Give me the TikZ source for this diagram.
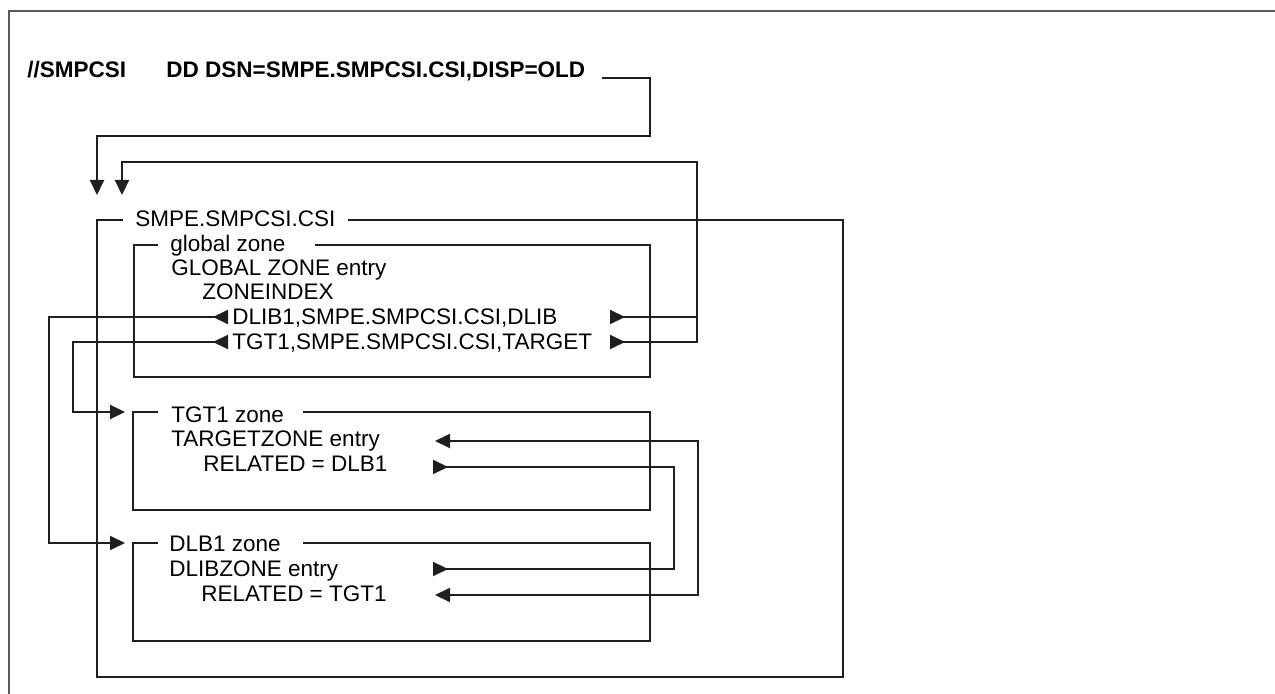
\documentclass[tikz,border=0pt]{standalone}
\usepackage{fontspec}
\setmainfont{Liberation Sans}
\usetikzlibrary{arrows.meta}
\tikzset{
  fwd/.tip={Triangle[length=7.5pt,width=7pt]},
  bwd/.tip={Triangle[length=7.5pt,width=7pt,reversed]},
}
\begin{document}
\begin{tikzpicture}[x=0.5pt,y=-0.5pt,
  line/.style={line width=1pt, draw=black!88},
  frame/.style={line width=0.6pt, draw=black!65},
  txt/.style={anchor=base west, inner sep=0pt, font=\fontsize{11.25}{13}\selectfont},
  ttl/.style={txt, font=\fontsize{11.25}{13}\selectfont\bfseries}]
\useasboundingbox (0,0) rectangle (1275,694);
% outer frame
\draw[frame] (9,694) -- (9,11) -- (1275,11);

% texts
\node[ttl] (jcl) at (27,78) {//SMPCSI};
\node[ttl] (dd) at (166,78) {DD DSN=SMPE.SMPCSI.CSI,DISP=OLD};
\node[txt] (csi) at (135,227) {SMPE.SMPCSI.CSI};
\node[txt] (gz) at (170,252) {global zone};
\node[txt] (gze) at (171,276) {GLOBAL ZONE entry};
\node[txt] (zi) at (202,300) {ZONEINDEX};
\node[txt] (dl) at (232,325) {DLIB1,SMPE.SMPCSI.CSI,DLIB};
\node[txt] (tg) at (232,350) {TGT1,SMPE.SMPCSI.CSI,TARGET};
\node[txt] (tz) at (171,423) {TGT1 zone};
\node[txt] (tze) at (171,447) {TARGETZONE entry};
\node[txt] (trel) at (203,472) {RELATED = DLB1};
\node[txt] (dz) at (169,552) {DLB1 zone};
\node[txt] (dze) at (169,577) {DLIBZONE entry};
\node[txt] (drel) at (201,602) {RELATED = TGT1};

% boxes (open at their titles)
\draw[line] (123,220) -| (97,677) -| (843,220) -- (348,220);
\draw[line] (158,245) -| (134,377) -| (650,245) -- (315,245);
\draw[line] (158,412) -| (133,510) -| (650,412) -- (303,412);
\draw[line] (158,543) -| (133,641) -| (650,543) -- (303,543);

% connector end points
\coordinate (ddend) at (602,78);
\coordinate (csiin1) at (97,195);
\coordinate (csiin2) at (122,195);
\coordinate (dlR) at (610,317);
\coordinate (tgR) at (610,342);
\coordinate (dlL) at (228,317);
\coordinate (tgL) at (228,342);
\coordinate (tzIn) at (125,412);
\coordinate (dzIn) at (125,543);
\coordinate (tzeR) at (435,441);
\coordinate (dreR) at (435,595);
\coordinate (treR) at (433,467);
\coordinate (dzeR) at (433,569);

% connectors
\draw[line,-{fwd}] (ddend) -| (650,136) -| (csiin1);
\draw[line,{bwd}-{fwd}] (dlR) -| (697,162) -| (csiin2);
\draw[line,{bwd}-] (tgR) -| (697,317);
\draw[line,{bwd}-{fwd}] (dlL) -| (49,543) -- (dzIn);
\draw[line,{bwd}-{fwd}] (tgL) -| (73,412) -- (tzIn);
\draw[line,{fwd}-{fwd}] (tzeR) -| (698,595) -- (dreR);
\draw[line,{bwd}-{bwd}] (treR) -| (674,569) -- (dzeR);
\end{tikzpicture}
\end{document}
